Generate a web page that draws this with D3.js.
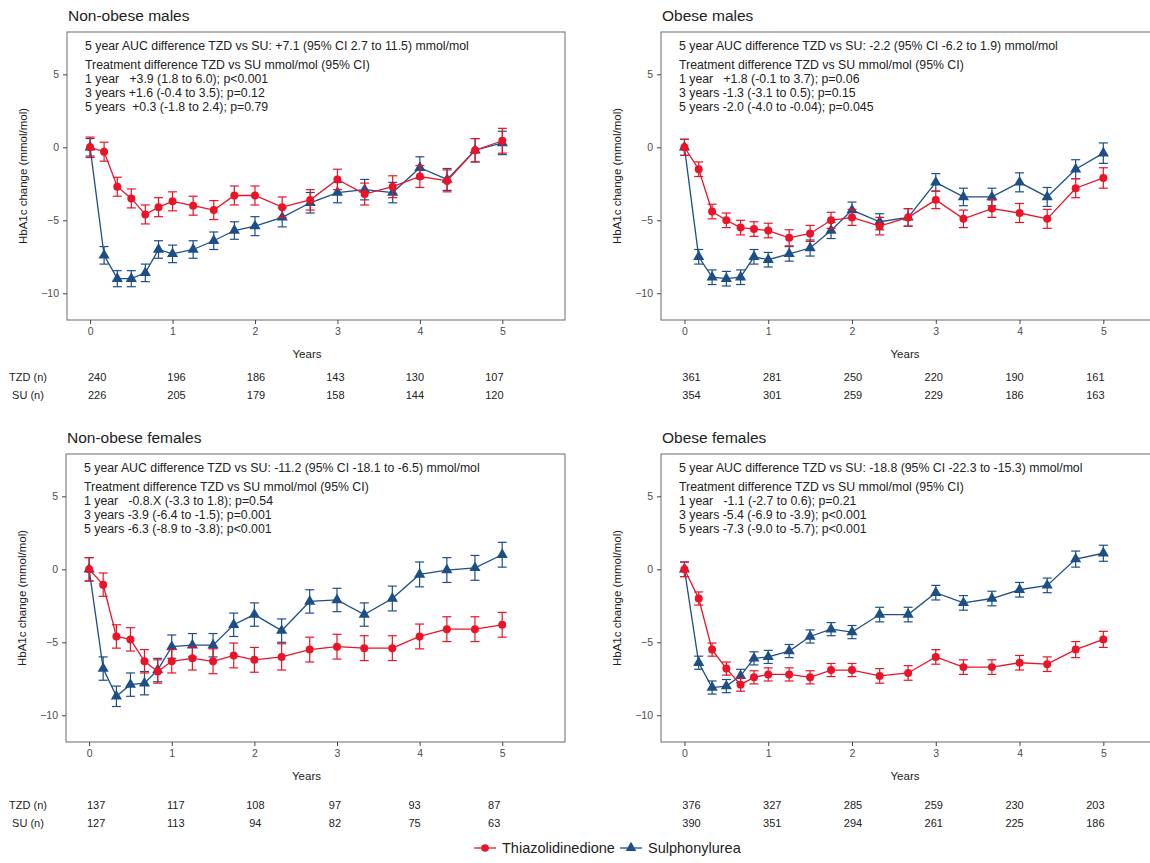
<!DOCTYPE html>
<html lang="en">
<head>
<meta charset="utf-8"/>
<title>HbA1c change by obesity and sex</title>
<script src="https://cdn.jsdelivr.net/npm/d3@7"></script>
<style>
  body { margin: 0; background: #fff; }
  svg text { font-family: "Liberation Sans", Arial, sans-serif; }
</style>
</head>
<body>
<div id="chart"></div>
<script>
// time points (years)
const years = [0, 0.17, 0.33, 0.5, 0.67, 0.83, 1, 1.25, 1.5, 1.75, 2, 2.33, 2.67, 3, 3.33, 3.67, 4, 4.33, 4.67, 5];
const yTicks = [-10, -5, 0, 5];
const xTicks = [0, 1, 2, 3, 4, 5];
const tableYears = [0, 1, 2, 3, 4, 5];

// Non-obese males
const nomTZD = [0, -0.3, -2.7, -3.5, -4.6, -4.1, -3.7, -4.0, -4.3, -3.3, -3.3, -4.1, -3.6, -2.2, -3.2, -2.7, -2.0, -2.3, -0.2, 0.45];
const nomTZDerr = [0.7, 0.65, 0.65, 0.65, 0.65, 0.65, 0.65, 0.65, 0.65, 0.65, 0.65, 0.7, 0.7, 0.7, 0.75, 0.75, 0.75, 0.75, 0.8, 0.85];
const nomSU = [0, -7.4, -9.0, -9.0, -8.6, -7.0, -7.3, -7.0, -6.4, -5.7, -5.4, -4.8, -3.8, -3.1, -2.9, -3.1, -1.4, -2.2, -0.2, 0.3];
const nomSUerr = [0.6, 0.6, 0.55, 0.55, 0.6, 0.6, 0.6, 0.6, 0.6, 0.6, 0.65, 0.65, 0.7, 0.7, 0.7, 0.7, 0.75, 0.75, 0.8, 0.8];
const nomTZDn = [240, 196, 186, 143, 130, 107];
const nomSUn = [226, 205, 179, 158, 144, 120];
const nomText = [
  "5 year AUC difference TZD vs SU: +7.1 (95% CI 2.7 to 11.5) mmol/mol",
  "Treatment difference TZD vs SU mmol/mol (95% CI)",
  "1 year   +3.9 (1.8 to 6.0); p<0.001",
  "3 years +1.6 (-0.4 to 3.5); p=0.12",
  "5 years  +0.3 (-1.8 to 2.4); p=0.79"
];

// Obese males
const omTZD = [0, -1.5, -4.4, -5.0, -5.5, -5.6, -5.7, -6.2, -5.9, -5.0, -4.8, -5.4, -4.8, -3.6, -4.9, -4.2, -4.5, -4.9, -2.8, -2.1];
const omTZDerr = [0.55, 0.5, 0.5, 0.5, 0.5, 0.5, 0.5, 0.55, 0.55, 0.55, 0.55, 0.6, 0.6, 0.6, 0.6, 0.6, 0.65, 0.65, 0.65, 0.7];
const omSU = [0, -7.5, -8.9, -9.0, -8.9, -7.5, -7.7, -7.3, -6.9, -5.7, -4.3, -5.1, -4.8, -2.4, -3.4, -3.4, -2.4, -3.4, -1.5, -0.4];
const omSUerr = [0.55, 0.5, 0.5, 0.5, 0.5, 0.5, 0.5, 0.5, 0.55, 0.55, 0.55, 0.55, 0.6, 0.6, 0.6, 0.6, 0.65, 0.65, 0.65, 0.7];
const omTZDn = [361, 281, 250, 220, 190, 161];
const omSUn = [354, 301, 259, 229, 186, 163];
const omText = [
  "5 year AUC difference TZD vs SU: -2.2 (95% CI -6.2 to 1.9) mmol/mol",
  "Treatment difference TZD vs SU mmol/mol (95% CI)",
  "1 year   +1.8 (-0.1 to 3.7); p=0.06",
  "3 years -1.3 (-3.1 to 0.5); p=0.15",
  "5 years -2.0 (-4.0 to -0.04); p=0.045"
];

// Non-obese females
const nofTZD = [0, -1.05, -4.6, -4.8, -6.3, -7.0, -6.3, -6.1, -6.3, -5.9, -6.2, -6.0, -5.5, -5.3, -5.4, -5.4, -4.6, -4.1, -4.1, -3.8];
const nofTZDerr = [0.8, 0.8, 0.8, 0.8, 0.8, 0.8, 0.8, 0.8, 0.85, 0.85, 0.85, 0.9, 0.85, 0.85, 0.85, 0.85, 0.85, 0.85, 0.85, 0.85];
const nofSU = [0, -6.8, -8.7, -7.9, -7.8, -6.9, -5.3, -5.2, -5.2, -3.8, -3.1, -4.2, -2.2, -2.1, -3.1, -2.0, -0.35, -0.05, 0.1, 1.0];
const nofSUerr = [0.8, 0.8, 0.7, 0.8, 0.8, 0.8, 0.8, 0.8, 0.8, 0.8, 0.8, 0.8, 0.8, 0.8, 0.8, 0.85, 0.85, 0.85, 0.85, 0.85];
const nofTZDn = [137, 117, 108, 97, 93, 87];
const nofSUn = [127, 113, 94, 82, 75, 63];
const nofText = [
  "5 year AUC difference TZD vs SU: -11.2 (95% CI -18.1 to -6.5) mmol/mol",
  "Treatment difference TZD vs SU mmol/mol (95% CI)",
  "1 year   -0.8.X (-3.3 to 1.8); p=0.54",
  "3 years -3.9 (-6.4 to -1.5); p=0.001",
  "5 years -6.3 (-8.9 to -3.8); p<0.001"
];

// Obese females
const ofTZD = [0, -2.0, -5.5, -6.8, -7.9, -7.4, -7.2, -7.2, -7.4, -6.9, -6.9, -7.3, -7.1, -6.0, -6.7, -6.7, -6.4, -6.5, -5.5, -4.8];
const ofTZDerr = [0.5, 0.45, 0.45, 0.45, 0.45, 0.45, 0.45, 0.45, 0.45, 0.45, 0.45, 0.5, 0.5, 0.5, 0.5, 0.5, 0.5, 0.5, 0.55, 0.55];
const ofSU = [0, -6.4, -8.1, -8.0, -7.3, -6.1, -6.0, -5.6, -4.6, -4.1, -4.3, -3.1, -3.1, -1.6, -2.3, -2.0, -1.4, -1.1, 0.7, 1.1];
const ofSUerr = [0.5, 0.45, 0.45, 0.45, 0.45, 0.45, 0.45, 0.45, 0.45, 0.45, 0.45, 0.5, 0.5, 0.5, 0.5, 0.5, 0.5, 0.5, 0.55, 0.55];
const ofTZDn = [376, 327, 285, 259, 230, 203];
const ofSUn = [390, 351, 294, 261, 225, 186];
const ofText = [
  "5 year AUC difference TZD vs SU: -18.8 (95% CI -22.3 to -15.3) mmol/mol",
  "Treatment difference TZD vs SU mmol/mol (95% CI)",
  "1 year   -1.1 (-2.7 to 0.6); p=0.21",
  "3 years -5.4 (-6.9 to -3.9); p<0.001",
  "5 years -7.3 (-9.0 to -5.7); p<0.001"
];

const seriesNames = ["Thiazolidinedione", "Sulphonylurea"];
const colTZD = "#ea1328", colSU = "#1d4f86";

const svgWidth = 1150, svgHeight = 863;
const svg = d3.select("#chart").append("svg")
  .attr("width", svgWidth).attr("height", svgHeight);

const panels = [
  { title: "Non-obese males",   left: 67,  right: 565,  top: 32,  tdy: 0,   rowLabels: true,
    tzd: nomTZD, tzdErr: nomTZDerr, su: nomSU, suErr: nomSUerr, tzdN: nomTZDn, suN: nomSUn, text: nomText },
  { title: "Obese males",       left: 661, right: 1167, top: 32,  tdy: 0,   rowLabels: false,
    tzd: omTZD, tzdErr: omTZDerr, su: omSU, suErr: omSUerr, tzdN: omTZDn, suN: omSUn, text: omText },
  { title: "Non-obese females", left: 66,  right: 565,  top: 454, tdy: 428, rowLabels: true,
    tzd: nofTZD, tzdErr: nofTZDerr, su: nofSU, suErr: nofSUerr, tzdN: nofTZDn, suN: nofSUn, text: nofText },
  { title: "Obese females",     left: 661, right: 1167, top: 454, tdy: 428, rowLabels: false,
    tzd: ofTZD, tzdErr: ofTZDerr, su: ofSU, suErr: ofSUerr, tzdN: ofTZDn, suN: ofSUn, text: ofText }
];

function drawPanel(p) {
  const bottom = p.top + 288;
  const x = d3.scaleLinear().domain([-0.28, 5.76]).range([p.left, p.right]);
  const y = d3.scaleLinear().domain([-11.83, 7.9]).range([bottom, p.top]);
  const g = svg.append("g");

  // title
  g.append("text")
    .attr("x", p.left + 1).attr("y", p.top - 11)
    .attr("font-size", 15.5).attr("fill", "#222")
    .text(p.title);

  // panel border
  g.append("rect")
    .attr("x", p.left).attr("y", p.top)
    .attr("width", p.right - p.left).attr("height", bottom - p.top)
    .attr("fill", "none").attr("stroke", "#777").attr("stroke-width", 1.1);

  // axes
  const xAxis = d3.axisBottom(x).tickValues(xTicks).tickFormat(d3.format("d")).tickSize(4).tickPadding(4);
  const yAxis = d3.axisLeft(y).tickValues(yTicks).tickFormat(d3.format("d")).tickSize(4).tickPadding(4);
  const gx = g.append("g").attr("transform", `translate(0,${bottom})`).call(xAxis);
  const gy = g.append("g").attr("transform", `translate(${p.left},0)`).call(yAxis);
  [gx, gy].forEach(a => {
    a.select(".domain").remove();
    a.selectAll(".tick line").attr("stroke", "#444");
    a.selectAll(".tick text").attr("fill", "#4d4d4d").attr("font-size", 10.5)
      .attr("font-family", "'Liberation Sans', Arial, sans-serif");
  });

  g.append("text")
    .attr("x", (p.left + p.right - 18) / 2).attr("y", bottom + 38)
    .attr("text-anchor", "middle").attr("font-size", 11.5).attr("fill", "#222")
    .text("Years");

  g.append("text")
    .attr("transform", `translate(${p.left - 40},${(p.top + bottom) / 2}) rotate(-90)`)
    .attr("text-anchor", "middle").attr("font-size", 11.5).attr("fill", "#222")
    .text("HbA1c change (mmol/mol)");

  // annotation
  const ann = g.append("text").attr("font-size", 12.3).attr("fill", "#222");
  const lineY = [18, 37, 51, 65, 79];
  p.text.forEach((t, i) => {
    ann.append("tspan").attr("x", p.left + 18).attr("y", p.top + lineY[i])
      .attr("xml:space", "preserve").style("white-space", "pre").text(t);
  });

  // series: SU first, TZD on top
  const series = [
    { vals: p.su, err: p.suErr, col: colSU, shape: d3.symbolTriangle },
    { vals: p.tzd, err: p.tzdErr, col: colTZD, shape: d3.symbolCircle }
  ];
  const line = d3.line().x((d, i) => x(years[i])).y(d => y(d));
  series.forEach(s => {
    const sg = g.append("g");
    sg.append("path").datum(s.vals)
      .attr("fill", "none").attr("stroke", s.col).attr("stroke-width", 1.3)
      .attr("d", line);
    const eb = sg.selectAll(".eb").data(s.vals).join("g");
    eb.append("line")
      .attr("x1", (d, i) => x(years[i])).attr("x2", (d, i) => x(years[i]))
      .attr("y1", (d, i) => y(d + s.err[i])).attr("y2", (d, i) => y(d - s.err[i]))
      .attr("stroke", s.col).attr("stroke-width", 1.2);
    [1, -1].forEach(sign => {
      eb.append("line")
        .attr("x1", (d, i) => x(years[i]) - 4.5).attr("x2", (d, i) => x(years[i]) + 4.5)
        .attr("y1", (d, i) => y(d + sign * s.err[i])).attr("y2", (d, i) => y(d + sign * s.err[i]))
        .attr("stroke", s.col).attr("stroke-width", 1.2);
    });
    sg.selectAll(".pt").data(s.vals).join("path")
      .attr("transform", (d, i) => `translate(${x(years[i])},${y(d)})`)
      .attr("d", d3.symbol().type(s.shape).size(s.shape === d3.symbolCircle ? 50 : 54))
      .attr("fill", s.col);
  });

  // number-at-risk table
  const tx = d3.scaleLinear().domain([0, 5]).range([x(0) + 7, x(5) - 8]);
  const rows = [{ label: "TZD (n)", vals: p.tzdN, yy: 377 }, { label: "SU (n)", vals: p.suN, yy: 395 }];
  rows.forEach(r => {
    const ry = r.yy + p.tdy;
    if (p.rowLabels) {
      g.append("text").attr("x", 28).attr("y", ry).attr("dy", "0.35em")
        .attr("text-anchor", "middle").attr("font-size", 11).attr("fill", "#222").text(r.label);
    }
    g.selectAll(null).data(r.vals).join("text")
      .attr("x", (d, i) => tx(tableYears[i])).attr("y", ry).attr("dy", "0.35em")
      .attr("text-anchor", "middle").attr("font-size", 11).attr("fill", "#222")
      .text(d => d);
  });
}

panels.forEach(drawPanel);

// legend
const lg = svg.append("g").attr("transform", "translate(0,848)");
const legendItems = [
  { name: seriesNames[0], col: colTZD, shape: d3.symbolCircle, x0: 474 },
  { name: seriesNames[1], col: colSU, shape: d3.symbolTriangle, x0: 620 }
];
legendItems.forEach(it => {
  lg.append("line").attr("x1", it.x0).attr("x2", it.x0 + 22).attr("y1", 0).attr("y2", 0)
    .attr("stroke", it.col).attr("stroke-width", 1.3);
  lg.append("path").attr("transform", `translate(${it.x0 + 11},0)`)
    .attr("d", d3.symbol().type(it.shape).size(it.shape === d3.symbolCircle ? 46 : 50))
    .attr("fill", it.col);
  lg.append("text").attr("x", it.x0 + 28).attr("y", 0).attr("dy", "0.35em")
    .attr("font-size", 14.5).attr("fill", "#222").text(it.name);
});
</script>
</body>
</html>
